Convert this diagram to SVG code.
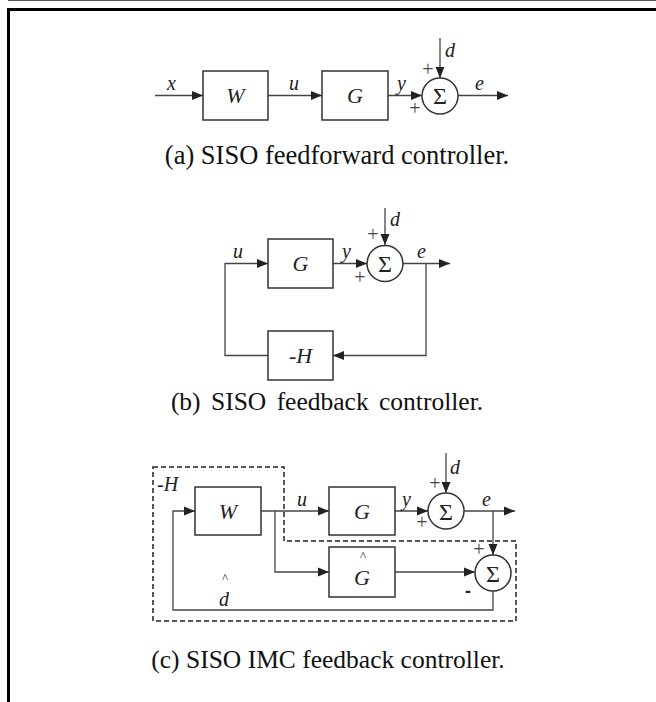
<svg xmlns="http://www.w3.org/2000/svg" width="656" height="702" viewBox="0 0 656 702">
<style>
.box{fill:#fff;stroke:#333;stroke-width:1.5}
.ln{fill:none;stroke:#444;stroke-width:1.3}
.ar{fill:none;stroke:#444;stroke-width:1.3;marker-end:url(#ah)}
.lab{font-family:"Liberation Serif",serif;font-style:italic;font-size:20px;fill:#222}
.blab{font-family:"Liberation Serif",serif;font-style:italic;font-size:22px;fill:#222;text-anchor:middle}
.sig{font-family:"Liberation Serif",serif;font-size:24px;fill:#222;text-anchor:middle}
.pm{font-family:"Liberation Serif",serif;font-size:20px;fill:#444;text-anchor:middle}
.cap{font-family:"Liberation Serif",serif;fill:#111;text-anchor:middle}
.hat{font-family:"Liberation Serif",serif;font-size:13px;fill:#222;text-anchor:middle}
</style>
<defs>
<marker id="ah" markerUnits="userSpaceOnUse" markerWidth="12" markerHeight="10" refX="11" refY="5" orient="auto">
<path d="M0,0.5 L11,5 L0,9.5 Z" fill="#222"/>
</marker>
</defs>
<rect width="656" height="702" fill="#fff"/>
<line x1="8" y1="0.5" x2="656" y2="0.5" stroke="#555" stroke-width="1.2"/>
<path d="M8.5,702 V9.5 H656" fill="none" stroke="#000" stroke-width="3"/>

<!-- (a) -->
<g id="connectors-a">
<path class="ar" d="M155,95.5 H203"/>
<path class="ar" d="M268,95.5 H322"/>
<path class="ar" d="M388,95.5 H422"/>
<path class="ar" d="M440,38 V78"/>
<path class="ar" d="M458,95.5 H508"/>
</g>
<g id="a-W"><rect class="box" x="203" y="71" width="65" height="49"/><text class="blab" x="235.5" y="103">W</text></g>
<g id="a-G"><rect class="box" x="322" y="71" width="66" height="49"/><text class="blab" x="355" y="103">G</text></g>
<g id="a-sum"><circle class="box" cx="440" cy="96" r="18"/><text class="sig" x="440" y="104">Σ</text></g>
<g id="a-labels">
<text class="lab" x="167" y="90">x</text>
<text class="lab" x="289" y="90">u</text>
<text class="lab" x="397" y="90">y</text>
<text class="lab" x="475" y="90">e</text>
<text class="lab" x="445" y="57">d</text>
<text class="pm" x="428" y="76">+</text>
<text class="pm" x="415" y="115">+</text>
</g>
<text class="cap" x="337" y="164" font-size="26.5">(a) SISO feedforward controller.</text>

<!-- (b) -->
<g id="connectors-b">
<path class="ar" d="M333,263.5 H367"/>
<path class="ar" d="M385,208 V245"/>
<path class="ar" d="M403,263.5 H450"/>
<path class="ar" d="M426,263.5 V355.5 H333"/>
<path class="ar" d="M268,355.5 H225 V263.5 H268"/>
</g>
<g id="b-G"><rect class="box" x="268" y="239" width="65" height="49"/><text class="blab" x="300.5" y="271">G</text></g>
<g id="b-H"><rect class="box" x="268" y="331" width="65" height="49"/><text class="blab" x="300.5" y="363">-H</text></g>
<g id="b-sum"><circle class="box" cx="385" cy="263.5" r="18"/><text class="sig" x="385" y="272">Σ</text></g>
<g id="b-labels">
<text class="lab" x="233" y="258">u</text>
<text class="lab" x="342" y="258">y</text>
<text class="lab" x="417" y="258">e</text>
<text class="lab" x="390" y="226">d</text>
<text class="pm" x="373" y="241">+</text>
<text class="pm" x="360" y="284">+</text>
</g>
<text class="cap" x="327" y="410" font-size="25.5" word-spacing="4">(b) SISO feedback controller.</text>

<!-- (c) -->
<g id="c-Hblock"><path d="M153,467 H284 V541 H516 V621 H153 Z" fill="none" stroke="#222" stroke-width="1.5" stroke-dasharray="5,3"/>
<text class="lab" x="157" y="491">-H</text></g>
<g id="connectors-c">
<path class="ar" d="M261,511 H329"/>
<path class="ar" d="M395,511 H428"/>
<path class="ar" d="M446,453 V493"/>
<path class="ar" d="M464,511 H515"/>
<path class="ar" d="M493,511 V555"/>
<path class="ar" d="M275,511 V572 H329"/>
<path class="ar" d="M395,572 H475"/>
<path class="ar" d="M493,591 V610 H173 V511 H195"/>
</g>
<g id="c-W"><rect class="box" x="195" y="487" width="66" height="48"/><text class="blab" x="228" y="519">W</text></g>
<g id="c-G"><rect class="box" x="329" y="487" width="66" height="48"/><text class="blab" x="362" y="519">G</text></g>
<g id="c-Ghat"><rect class="box" x="329" y="547" width="66" height="50"/><text class="blab" x="362" y="585">G</text><text class="hat" x="363" y="560">^</text></g>
<g id="c-sum1"><circle class="box" cx="446" cy="511" r="18"/><text class="sig" x="446" y="519.5">Σ</text></g>
<g id="c-sum2"><circle class="box" cx="493" cy="573" r="18"/><text class="sig" x="493" y="581.5">Σ</text></g>
<g id="c-labels">
<text class="lab" x="297" y="506">u</text>
<text class="lab" x="402" y="506">y</text>
<text class="lab" x="482" y="506">e</text>
<text class="lab" x="450" y="474">d</text>
<text class="pm" x="435" y="490">+</text>
<text class="pm" x="422" y="529">+</text>
<text class="pm" x="479" y="556">+</text>
<text x="468" y="597" style="font-family:'Liberation Sans',sans-serif;font-size:18px;font-weight:bold;fill:#222;text-anchor:middle">-</text>
<text class="lab" x="219" y="606">d</text>
<text class="hat" x="225" y="582">^</text>
</g>
<text class="cap" x="328" y="668" font-size="25.5">(c) SISO IMC feedback controller.</text>
</svg>
